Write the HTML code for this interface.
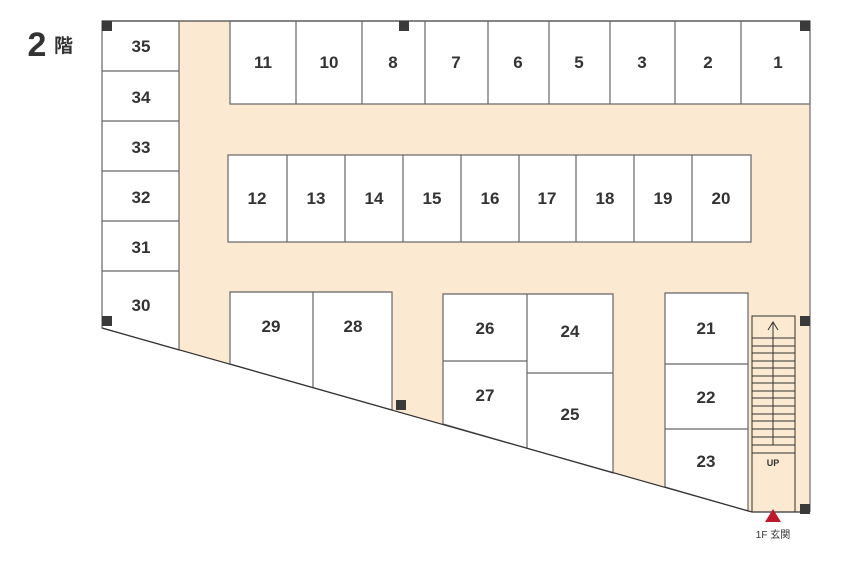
<!DOCTYPE html>
<html><head><meta charset="utf-8"><style>
body{margin:0;background:#fff}
svg text{font-family:"Liberation Sans","Noto Sans CJK JP",sans-serif;font-weight:bold;fill:#333;text-anchor:middle}
</style></head><body>
<svg width="847" height="564" viewBox="0 0 847 564" xmlns="http://www.w3.org/2000/svg">
<polygon points="102,21 810,21 810,512 752,512 102,328" fill="#fbe9d1"/>
<g fill="#fff" stroke="#666" stroke-width="1.2">
<polygon points="102,21 179,21 179,350 102,328"/>
<line x1="102" y1="71" x2="179" y2="71"/><line x1="102" y1="121" x2="179" y2="121"/><line x1="102" y1="171" x2="179" y2="171"/><line x1="102" y1="221" x2="179" y2="221"/><line x1="102" y1="271" x2="179" y2="271"/>
<rect x="230" y="21" width="580" height="83"/>
<path d="M296 21V104M362 21V104M425 21V104M488 21V104M549 21V104M610 21V104M675 21V104M741 21V104"/>
<rect x="228" y="155" width="523" height="87"/>
<path d="M287 155V242M345 155V242M403 155V242M461 155V242M519 155V242M576 155V242M634 155V242M692 155V242"/>
<polygon points="230,292 392,292 392,410 230,364"/>
<line x1="313" y1="292" x2="313" y2="387"/>
<polygon points="443,294 613,294 613,473 443,424"/>
<path d="M527 294V448M443 361H527M527 373H613"/>
<polygon points="665,293 748,293 748,511 665,487"/>
<path d="M665 364H748M665 429H748"/>
</g>
<line x1="102" y1="328" x2="752" y2="512" stroke="#333" stroke-width="1.2"/>
<line x1="810" y1="21" x2="810" y2="512" stroke="#888" stroke-width="1.5"/>
<line x1="102" y1="21" x2="810" y2="21" stroke="#666" stroke-width="1.5"/>
<line x1="752" y1="512" x2="810" y2="512" stroke="#333" stroke-width="1.2"/>
<g stroke="#333" stroke-width="1" fill="none">
<rect x="752" y="316" width="43" height="196"/>
<path d="M752 338H795M752 346H795M752 353H795M752 361H795M752 368H795M752 376H795M752 383H795M752 391H795M752 398H795M752 406H795M752 414H795M752 421H795M752 429H795M752 437H795M752 445H795M752 453H795"/>
<path d="M773 445V322M768 330L773 322L778 330"/>
</g>
<g fill="#3a3a3a">
<rect x="102" y="21" width="10" height="10"/><rect x="399" y="21" width="10" height="10"/><rect x="800" y="21" width="10" height="10"/>
<rect x="102" y="316" width="10" height="10"/><rect x="396" y="400" width="10" height="10"/>
<rect x="800" y="316" width="10" height="10"/><rect x="800" y="504" width="10" height="10"/>
</g>
<polygon points="773,509 765,522 781,522" fill="#c0192c"/>
<text x="37" y="56" font-size="34">2</text>
<text x="54" y="52" font-size="19" style="text-anchor:start">階</text>
<g font-size="17">
<text x="141" y="52">35</text><text x="141" y="103">34</text><text x="141" y="153">33</text><text x="141" y="203">32</text><text x="141" y="253">31</text><text x="141" y="311">30</text>
<text x="263" y="68">11</text><text x="329" y="68">10</text><text x="393" y="68">8</text><text x="456" y="68">7</text><text x="518" y="68">6</text><text x="579" y="68">5</text><text x="642" y="68">3</text><text x="708" y="68">2</text><text x="778" y="68">1</text>
<text x="257" y="204">12</text><text x="316" y="204">13</text><text x="374" y="204">14</text><text x="432" y="204">15</text><text x="490" y="204">16</text><text x="547" y="204">17</text><text x="605" y="204">18</text><text x="663" y="204">19</text><text x="721" y="204">20</text>
<text x="271" y="332">29</text><text x="353" y="332">28</text>
<text x="485" y="334">26</text><text x="570" y="337">24</text><text x="485" y="401">27</text><text x="570" y="420">25</text>
<text x="706" y="334">21</text><text x="706" y="403">22</text><text x="706" y="467">23</text>
</g>
<text x="773" y="466" font-size="9">UP</text>
<text x="773" y="538" font-size="10" style="font-weight:normal">1F 玄関</text>
</svg>
</body></html>
